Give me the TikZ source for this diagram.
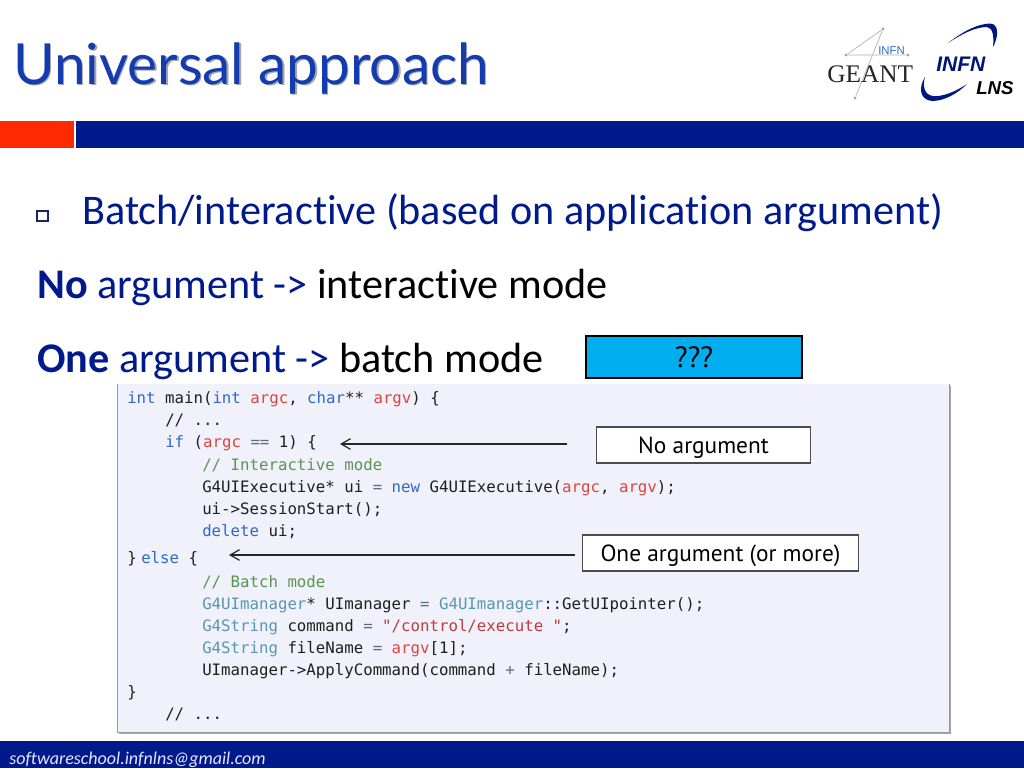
\documentclass[tikz,border=0pt]{standalone}
\usepackage{fontspec}
\setmainfont[Ligatures=NoCommon]{Carlito}
\newfontfamily\codef{DejaVu Sans Mono}
\newfontfamily\titlef{Lato}
\newfontfamily\serf{Liberation Serif}
\newfontfamily\lsans{Liberation Sans}
\newfontfamily\boxf{PT Sans}
\definecolor{barblue}{RGB}{0,26,140}
\definecolor{barred}{RGB}{255,42,0}
\definecolor{panel}{RGB}{240,241,250}
\definecolor{kw}{RGB}{46,105,200}
\definecolor{vr}{RGB}{222,68,60}
\definecolor{cm}{RGB}{88,150,80}
\definecolor{ty}{RGB}{88,150,175}
\definecolor{st}{RGB}{190,60,60}
\definecolor{tx}{RGB}{30,30,35}
\definecolor{op}{RGB}{90,110,130}
\definecolor{skyb}{RGB}{0,173,239}
\definecolor{titleb}{RGB}{20,60,175}
\newcommand{\K}[1]{\textcolor{kw}{#1}}
\newcommand{\V}[1]{\textcolor{vr}{#1}}
\newcommand{\C}[1]{\textcolor{cm}{#1}}
\newcommand{\T}[1]{\textcolor{ty}{#1}}
\newcommand{\St}[1]{\textcolor{st}{#1}}
\newcommand{\Op}[1]{\textcolor{op}{#1}}
\usetikzlibrary{arrows.meta}
\tikzset{
  x=0.75pt,y=-0.75pt,
  code/.style={anchor=base west,inner sep=0pt,text=tx,font=\codef\fontsize{11.8}{14}\selectfont},
  slide/.style={anchor=base west,inner sep=0pt,font=\fontsize{31.65}{36}\selectfont},
  callout/.style={draw=black!70,fill=white,line width=0.9pt,inner sep=0pt,text depth=0pt,font=\boxf\fontsize{17.5}{22}\selectfont,text=black},
  pointer/.style={draw=black!85,line width=0.9pt,-{Straight Barb[length=7pt,width=8pt]}},
  logoline/.style={draw=black!30,line width=0.5pt},
  logodot/.style={circle,fill=black!35,inner sep=0pt,minimum size=2.5pt},
}
\begin{document}
\begin{tikzpicture}
\useasboundingbox (0,0) rectangle (1024,768);
\fill[white] (0,0) rectangle (1024,768);
% title
\node[anchor=base west,inner sep=0pt,text=black!35,font=\titlef\fontsize{42.5}{50}\selectfont] at (14.3,85.5) {Universal approach};
\node (title) [anchor=base west,inner sep=0pt,text=titleb,font=\titlef\fontsize{42.5}{50}\selectfont] at (13,84) {Universal approach};
% bars
\fill[barred] (0,121) rectangle (74,148);
\fill[barblue] (76,121) rectangle (1024,148);
\fill[barblue] (0,741) rectangle (1024,768);
\node (mail) [anchor=base west,inner sep=0pt,text=white!90!blue,font=\itshape\fontsize{13.5}{16}\selectfont] at (9,764) {softwareschool.infnlns@gmail.com};
% logo
\node (p1) [logodot] at (883,29) {};
\node (p2) [logodot] at (846,55) {};
\node (p3) [logodot] at (908,55) {};
\node (p4) [logodot] at (855,98) {};
\draw[logoline] (p1) -- (p2) -- (p3);
\draw[logoline] (p1) -- (p4);
\node (ginfn) [anchor=base west,inner sep=0pt,text=kw,font=\lsans\fontsize{8.5}{10}\selectfont] at (878,54.5) {INFN};
\node (geant) [anchor=base west,inner sep=0pt,text=black!85,font=\serf\fontsize{19}{20}\selectfont] at (827,82) {GEANT};
\node (infn) [anchor=base west,inner sep=0pt,text=barblue!85!black,font=\lsans\bfseries\itshape\fontsize{15.8}{20}\selectfont] at (936,71.5) {INFN};
\node (lns) [anchor=base west,inner sep=0pt,text=black,font=\lsans\bfseries\itshape\fontsize{14}{18}\selectfont] at (976,94) {LNS};
\fill[barblue!90!black] (948,43) .. controls (965,30) and (978,24) .. (990,23.5) .. controls (1000,24) and (998,38) .. (993,47) .. controls (994,36) and (993,28) .. (987,27) .. controls (975,27) and (962,34) .. (948,43) -- cycle;
\fill[barblue!90!black] (925,77) .. controls (918,88) and (920,100) .. (932,101) .. controls (945,101) and (958,93) .. (967,84) .. controls (955,92) and (942,97) .. (933,96) .. controls (925,95) and (922,87) .. (925,77) -- cycle;
% bullets and text
\draw[barblue!60!black!90,line width=1.1pt] (37,211) rectangle (48,221);
\node (l1) [slide,text=barblue] at (82,224) {Batch/interactive (based on application argument)};
\node (l2) [slide,text=barblue] at (37,298) {\textbf{No} argument -> \textcolor{black}{interactive mode}};
\node (l3) [slide,text=barblue] at (37,372) {\textbf{One} argument -> \textcolor{black}{batch mode}};
\node (q) [draw=black,line width=1.4pt,fill=skyb,inner sep=0pt,text depth=0pt,font=\boxf\fontsize{22}{26}\selectfont,text=black,minimum width=162pt,minimum height=31.5pt] at (694,357) {???};
% panel
\fill[black!35] (119,386) rectangle (951,734);
\fill[panel] (118,384) rectangle (949,732);
\draw[black!40,line width=0.6pt] (117.5,384) -- (117.5,732.5) -- (949.5,732.5) -- (949.5,384);
% code
\node (c1) [code] at (127,403) {\K{int} main(\K{int} \V{argc}, \K{char}** \V{argv}) \{};
\node (c2) [code] at (165,425) {// ...};
\node (c3) [code] at (165,447.5) {\K{if} (\V{argc} \Op{==} 1) \{};
\node (c4) [code] at (202,470) {\C{// Interactive mode}};
\node (c5) [code] at (202,492) {G4UIExecutive* ui \Op{=} \K{new} G4UIExecutive(\V{argc}, \V{argv});};
\node (c6) [code] at (202,514) {ui->SessionStart();};
\node (c7) [code] at (202,536) {\K{delete} ui;};
\node (c8) [code] at (127,563) {\}\hspace{3.4pt}\K{else} \{};
\node (c9) [code] at (202,587) {\C{// Batch mode}};
\node (c10) [code] at (202,609) {\T{G4UImanager}* UImanager \Op{=} \T{G4UImanager}::GetUIpointer();};
\node (c11) [code] at (202,631) {\T{G4String} command \Op{=} \St{"/control/execute "};};
\node (c12) [code] at (202,653) {\T{G4String} fileName \Op{=} \V{argv}[1];};
\node (c13) [code] at (202,675) {UImanager->ApplyCommand(command \Op{+} fileName);};
\node (c14) [code] at (127,697) {\}};
\node (c15) [code] at (165,719) {// ...};
% callouts
\node (noarg) [callout,minimum width=161pt,minimum height=27pt] at (703.5,445) {No argument};
\node (onearg) [callout,minimum width=207.5pt,minimum height=27pt] at (720.5,553) {One argument (or more)};
\coordinate (tipa) at (340,444);
\coordinate (tipb) at (229,555);
\draw[pointer,shorten <=21.75pt] (noarg.west |- tipa) -- (tipa);
\draw[pointer,shorten <=5.25pt] (onearg.west |- tipb) -- (tipb);
\end{tikzpicture}
\end{document}
